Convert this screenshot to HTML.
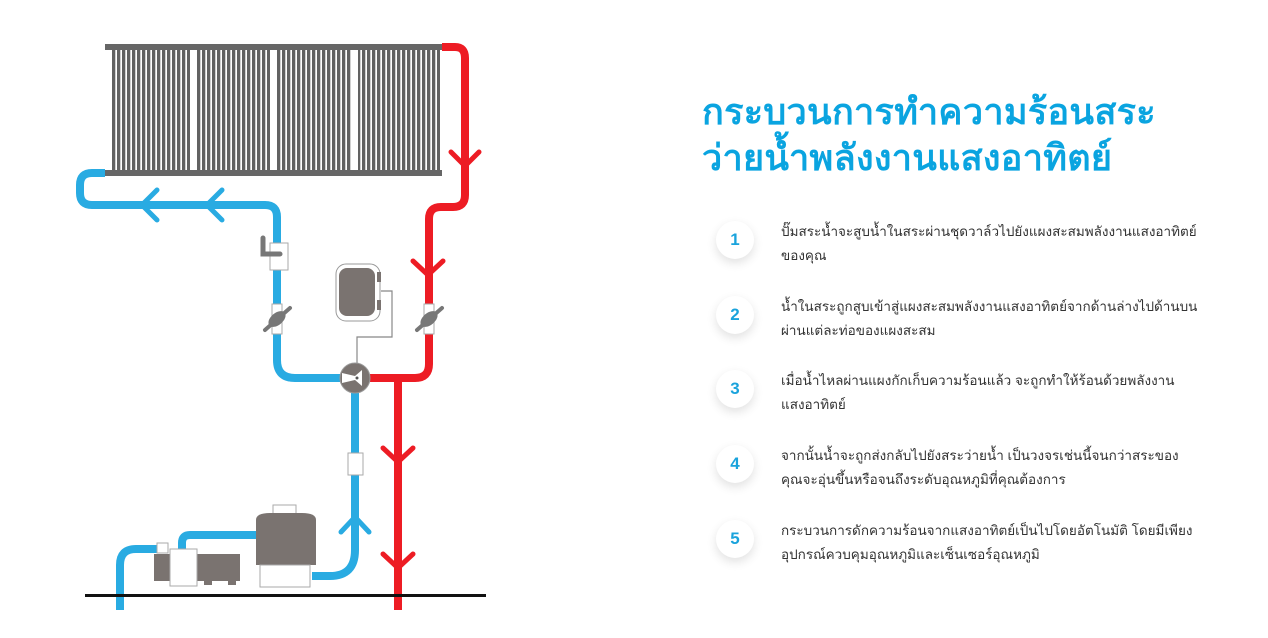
<!DOCTYPE html>
<html><head><meta charset="utf-8"><style>
body{margin:0;width:1268px;height:638px;background:#fff;overflow:hidden;position:relative;font-family:"Liberation Sans","Noto Sans CJK SC",sans-serif}
svg{position:absolute;left:0;top:0}
.t{position:absolute;left:702px;top:89px;color:#0aa4e0;font-weight:bold;font-size:36px;line-height:46px;letter-spacing:0.3px}
.it{position:absolute;left:716px;width:520px}
.c{position:absolute;left:0;top:0;width:38px;height:38px;border-radius:50%;background:#fff;box-shadow:0 4px 10px rgba(0,0,0,0.12);color:#1aa3dc;font-weight:bold;font-size:17px;text-align:center;line-height:38px}
.x{position:absolute;left:65px;top:-1px;font-size:13.5px;line-height:24px;color:#333;white-space:nowrap}
</style></head><body>
<svg width="1268" height="638" viewBox="0 0 1268 638">
<defs><pattern id="tb" x="112" y="0" width="5" height="10" patternUnits="userSpaceOnUse"><rect x="0" y="0" width="3.3" height="10" fill="#626262"/></pattern></defs>
<rect x="112" y="50" width="328" height="121" fill="url(#tb)"/>
<rect x="190" y="50" width="6" height="121" fill="#fff"/>
<rect x="270" y="50" width="6" height="121" fill="#fff"/>
<rect x="352" y="50" width="6" height="121" fill="#fff"/>
<rect x="105" y="44" width="337" height="6" fill="#666"/>
<rect x="105" y="170" width="337" height="6" fill="#666"/>
<g fill="none" stroke-width="8" stroke-linecap="butt">
<path d="M105 173 H92 Q80 173 80 185 V193 Q80 205 92 205 H265 Q277 205 277 217 V360 Q277 378 295 378 H342" stroke="#29abe2"/>
<path d="M355 392 V550 Q355 576 330 576 H312" stroke="#29abe2"/>
<path d="M120 610 V565 Q120 549 136 549 H158" stroke="#29abe2"/>
<path d="M182 550 V543 Q182 535 190 535 H258" stroke="#29abe2"/>
<path d="M442 47 H455 Q465 47 465 58 V195 Q465 207 453 207 H441 Q429 207 429 219 V364 Q429 378 415 378 H368" stroke="#ed1c24"/>
<path d="M398 378 V610" stroke="#ed1c24"/>
<g stroke-width="5" stroke-linecap="round">
<path d="M157 190 L142 205 L157 220 M222 190 L207 205 L222 220" stroke="#29abe2"/>
<path d="M341 532 L355 517 L369 532" stroke="#29abe2"/>
<path d="M451 152 L465 166 L479 152 M413 261 L428 275 L443 261 M383 448 L398 462 L413 448 M383 554 L398 568 L413 554" stroke="#ed1c24"/>
</g></g>
<rect x="270" y="243" width="18" height="27" fill="#fff" stroke="#aaa"/>
<path d="M263 238 V254 H280" fill="none" stroke="#777" stroke-width="5" stroke-linecap="round"/>
<g fill="#777">
<rect x="272" y="304" width="10" height="30" fill="#fff" stroke="#aaa"/>
<ellipse cx="277" cy="319" rx="10" ry="6" transform="rotate(-40 277 319)"/>
<path d="M265 330 L290 308" stroke="#777" stroke-width="4" stroke-linecap="round"/>
<rect x="424" y="304" width="10" height="30" fill="#fff" stroke="#aaa"/>
<ellipse cx="429" cy="319" rx="10" ry="6" transform="rotate(-40 429 319)"/>
<path d="M417 330 L442 308" stroke="#777" stroke-width="4" stroke-linecap="round"/>
</g>
<rect x="336" y="264" width="44" height="57" rx="10" fill="#fff" stroke="#999"/>
<rect x="339" y="268" width="36" height="48" rx="8" fill="#7a7370"/>
<rect x="377" y="272" width="4" height="10" fill="#7a7370"/><rect x="377" y="300" width="4" height="10" fill="#7a7370"/>
<path d="M381 291 H392 V337 H357 V364" fill="none" stroke="#888" stroke-width="1.2"/>
<circle cx="355" cy="378" r="15" fill="#7a7370" stroke="#999"/>
<path d="M342 373 L355 376 L362 370 L362 386 L355 380 L342 383 Z" fill="#fff"/>
<circle cx="357" cy="378" r="1.5" fill="#555"/>
<rect x="348" y="453" width="15" height="22" fill="#fff" stroke="#aaa"/>
<rect x="273" y="505" width="23" height="11" fill="#fff" stroke="#aaa"/>
<path d="M256 520 Q256 513 270 513 H302 Q316 513 316 520 V565 H256 Z" fill="#7a7370"/>
<rect x="260" y="565" width="50" height="22" fill="#fff" stroke="#aaa"/>
<rect x="154" y="554" width="86" height="27" fill="#7a7370"/>
<rect x="204" y="580" width="8" height="5" fill="#7a7370"/><rect x="228" y="580" width="8" height="5" fill="#7a7370"/>
<rect x="157" y="543" width="11" height="10" fill="#fff" stroke="#aaa"/>
<rect x="170" y="549" width="27" height="37" fill="#fff" stroke="#aaa"/>
<rect x="85" y="594" width="401" height="3" fill="#111"/>
</svg>
<div class="t">กระบวนการทำความร้อนสระ<br>ว่ายน้ำพลังงานแสงอาทิตย์</div>
<div class="it" style="top:221px"><div class="c">1</div><div class="x">ปั๊มสระน้ำจะสูบน้ำในสระผ่านชุดวาล์วไปยังแผงสะสมพลังงานแสงอาทิตย์<br>ของคุณ</div></div>
<div class="it" style="top:296px"><div class="c">2</div><div class="x">น้ำในสระถูกสูบเข้าสู่แผงสะสมพลังงานแสงอาทิตย์จากด้านล่างไปด้านบน<br>ผ่านแต่ละท่อของแผงสะสม</div></div>
<div class="it" style="top:370px"><div class="c">3</div><div class="x">เมื่อน้ำไหลผ่านแผงกักเก็บความร้อนแล้ว จะถูกทำให้ร้อนด้วยพลังงาน<br>แสงอาทิตย์</div></div>
<div class="it" style="top:445px"><div class="c">4</div><div class="x">จากนั้นน้ำจะถูกส่งกลับไปยังสระว่ายน้ำ เป็นวงจรเช่นนี้จนกว่าสระของ<br>คุณจะอุ่นขึ้นหรือจนถึงระดับอุณหภูมิที่คุณต้องการ</div></div>
<div class="it" style="top:520px"><div class="c">5</div><div class="x">กระบวนการดักความร้อนจากแสงอาทิตย์เป็นไปโดยอัตโนมัติ โดยมีเพียง<br>อุปกรณ์ควบคุมอุณหภูมิและเซ็นเซอร์อุณหภูมิ</div></div>
</body></html>
